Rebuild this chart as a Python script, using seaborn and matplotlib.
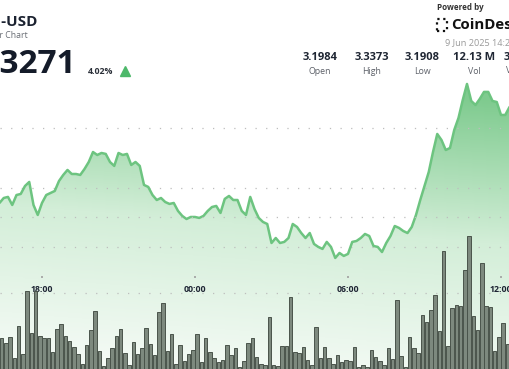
import numpy as np
import pandas as pd
import matplotlib
matplotlib.use("Agg")
import matplotlib.pyplot as plt
import seaborn as sns
from matplotlib.colors import LinearSegmentedColormap
from matplotlib.lines import Line2D
from matplotlib.patches import Rectangle

sns.set_theme(style="white")
plt.rcParams['font.family'] = ['Open Sans', 'DejaVu Sans']

# 10 minute samples, hours counted from midnight of the first day (16:20 -> 12:20)
start_hour = 16 + 20 / 60

price = [3.2371, 3.2413, 3.2422, 3.2354, 3.2438, 3.2447, 3.2514, 3.2548, 3.2354, 3.2270,
         3.2371, 3.2438, 3.2455, 3.2472, 3.2556, 3.2607, 3.2649, 3.2615, 3.2615, 3.2607,
         3.2657, 3.2716, 3.2800, 3.2775, 3.2792, 3.2784, 3.2716, 3.2683, 3.2792, 3.2775,
         3.2784, 3.2691, 3.2716, 3.2683, 3.2523, 3.2506, 3.2438, 3.2396, 3.2413, 3.2379,
         3.2363, 3.2371, 3.2304, 3.2262, 3.2236, 3.2253, 3.2253, 3.2245, 3.2262, 3.2304,
         3.2337, 3.2346, 3.2287, 3.2405, 3.2430, 3.2396, 3.2396, 3.2304, 3.2270, 3.2422,
         3.2320, 3.2245, 3.2211, 3.2194, 3.2034, 3.2076, 3.2034, 3.2043, 3.2076, 3.2194,
         3.2169, 3.2118, 3.2076, 3.2118, 3.2026, 3.2001, 3.1984, 3.2043, 3.2001, 3.1908,
         3.1950, 3.1925, 3.1942, 3.2043, 3.2051, 3.2076, 3.2110, 3.2093, 3.2009, 3.2001,
         3.1958, 3.2034, 3.2093, 3.2177, 3.2161, 3.2135, 3.2118, 3.2169, 3.2270, 3.2396,
         3.2514, 3.2632, 3.2800, 3.2952, 3.2901, 3.2817, 3.2834, 3.2986, 3.3087, 3.3238,
         3.3373, 3.3230, 3.3196, 3.3247, 3.3306, 3.3306, 3.3230, 3.3221, 3.3112, 3.3112,
         3.3179]

# volume per 10 minute bar, thousands
volume = [40.8, 34.2, 42.1, 14.5, 56.6, 19.7, 102.6, 47.4, 102.6, 43.4,
          40.8, 40.8, 22.4, 52.6, 59.9, 43.4, 36.8, 28.9, 19.7, 6.6,
          31.6, 52.0, 76.3, 23.7, 3.9, 15.1, 27.6, 43.4, 52.6, 21.1,
          5.3, 35.5, 19.7, 27.6, 53.9, 32.9, 18.4, 75.0, 86.8, 23.7,
          46.1, 6.6, 31.6, 10.5, 19.7, 25.0, 46.1, 8.6, 40.8, 22.4,
          14.5, 9.2, 11.8, 31.6, 18.4, 27.6, 2.6, 10.5, 34.2, 40.8,
          15.8, 6.6, 5.3, 68.4, 5.3, 3.9, 30.3, 30.3, 94.7, 22.8,
          21.1, 28.6, 12.2, 5.3, 54.9, 14.5, 29.3, 14.5, 6.6, 18.4,
          9.6, 11.8, 10.9, 28.6, 2.2, 5.3, 2.2, 25.4, 16.2, 10.9,
          5.3, 27.6, 13.2, 91.2, 16.7, 2.2, 41.7, 27.6, 20.6, 71.1,
          62.2, 78.0, 97.8, 50.4, 155.7, 30.7, 79.9, 84.2, 83.3, 130.7,
          175.4, 69.3, 51.7, 139.5, 83.3, 81.2, 24.1, 41.7, 60.5, 32.9,
          122.8]

tick_hours = [18, 24, 30, 36]
tick_labels = ["18:00", "00:00", "06:00", "12:00"]
price_grid = [3.20, 3.25, 3.30]
volume_grid = [100, 200]

stat_values = ["3.1984", "3.3373", "3.1908", "12.13 M", "39.43 M"]
stat_names = ["Open", "High", "Low", "Vol", "Vol (USD)"]

times = start_hour + np.arange(len(price)) / 6
bars = pd.DataFrame({'t': times[:len(volume)] + 1 / 12, 'vol': volume})

W, H = 510, 369
xlim = (16.353, 36.353)
ylim = (3.0973, 3.4080)

fig = plt.figure(figsize=(W / 100, H / 100), dpi=100)
ax = fig.add_axes([0, 0, 1, 1])

# gradient area under the price line (a bit stronger towards the right)
area = ax.fill_between(times, price, ylim[0], facecolor='none', edgecolor='none')
cmap = LinearSegmentedColormap.from_list('area', ['#f3faf4', '#d3eed8', '#7fcb8f'])
v = np.linspace(0, 1, 256)[:, None]
h = np.linspace(0, 1, 256)[None, :]
grad = np.clip(v + 0.14 * (h - 0.5), 0, 1)
im = ax.imshow(grad, cmap=cmap, aspect='auto', origin='lower', vmin=0, vmax=1,
               extent=[xlim[0], xlim[1], ylim[0], 3.34], zorder=1)
im.set_clip_path(area.get_paths()[0], transform=ax.transData)

sns.lineplot(x=times, y=price, ax=ax, color='#6dc480', linewidth=1.8, zorder=3)

ax.set_xlim(*xlim)
ax.set_ylim(*ylim)
ax.set_yticks(price_grid)
ax.set_axisbelow('line')
ax.grid(axis='y', color='#bdbdbd', linestyle=(0, (1, 7.5)), linewidth=0.9)
ax.tick_params(left=False, labelleft=False, bottom=False, labelbottom=False)
ax.set_xlabel("")
ax.set_ylabel("")
for s in ax.spines.values():
    s.set_visible(False)

# volume bars on a twin axis
ax2 = ax.twinx()
sns.histplot(data=bars, x='t', weights='vol', binwidth=1 / 6,
             binrange=(start_hour, start_hour + len(volume) / 6), shrink=0.8,
             color='#7d897e', edgecolor='#4a544b', linewidth=0.7, alpha=1, ax=ax2)
ax2.set_ylim(0, 486)
ax2.set_xlim(*xlim)
ax2.set_yticks(volume_grid)
ax2.grid(axis='y', color='#bdbdbd', linestyle=(0, (1, 7.5)), linewidth=0.9)
ax2.grid(axis='x', visible=False)
ax2.set_axisbelow(True)
ax2.tick_params(axis='y', right=False, labelright=False, left=False, labelleft=False)
ax2.set_xlabel("")
ax2.set_ylabel("")
for s in ax2.spines.values():
    s.set_visible(False)

ax2.xaxis.set_visible(True)
ax2.spines['bottom'].set_position(('axes', 1 - 276 / H))
ax2.set_xticks(tick_hours, tick_labels)
ax2.tick_params(axis='x', bottom=True, labelbottom=True, length=1.3, width=1.2,
                color='#a0a0a0', pad=5.5, labelsize=6.3, labelcolor='#1d2433')
for lab in ax2.get_xticklabels():
    lab.set_fontweight('bold')

# header
fig.text(38 / W, 1 - 21.5 / H, "SUI-USD", ha='right', va='center', fontsize=11,
         fontweight='bold', color='#1b2230')
fig.text(28 / W, 1 - 35 / H, "24 Hour Chart", ha='right', va='center',
         fontsize=6.3, color='#6b6f76')
fig.text(76 / W, 1 - 65 / H, "$3.3271", ha='right', va='center', fontsize=24,
         fontweight='bold', color='#141b29')
fig.text(88 / W, 1 - 72 / H, "4.02%", ha='left', va='center', fontsize=6.3,
         fontweight='bold', color='#2a2f38')
fig.add_artist(Line2D([125 / W], [1 - 71 / H], marker='^', markersize=7,
                      color='#4db86a', linestyle='none', transform=fig.transFigure))

stat_x = [320, 372, 422, 474, 525]
for x, val, name in zip(stat_x, stat_values, stat_names):
    fig.text(x / W, 1 - 57.5 / H, val, ha='center', va='center', fontsize=8,
             fontweight='bold', color='#1f2633')
    fig.text(x / W, 1 - 71 / H, name, ha='center', va='center', fontsize=6.3,
             color='#5c6068')

fig.text(437 / W, 1 - 8 / H, "Powered by", ha='left', va='center', fontsize=5.8,
         fontweight='bold', color='#333333')
fig.add_artist(Rectangle((437.5 / W, 1 - 31 / H), 10 / W, 12 / H, fill=False,
                         linestyle=':', linewidth=1.6, edgecolor='#111111',
                         transform=fig.transFigure))
fig.text(451 / W, 1 - 25 / H, "CoinDesk", ha='left', va='center', fontsize=10.8,
         fontweight='bold', color='#111111')
fig.text(445 / W, 1 - 43 / H, "9 Jun 2025 14:20 UTC", ha='left', va='center',
         fontsize=6.6, color='#9a9a9a')

fig.savefig("out.png", dpi=100, facecolor='white')
